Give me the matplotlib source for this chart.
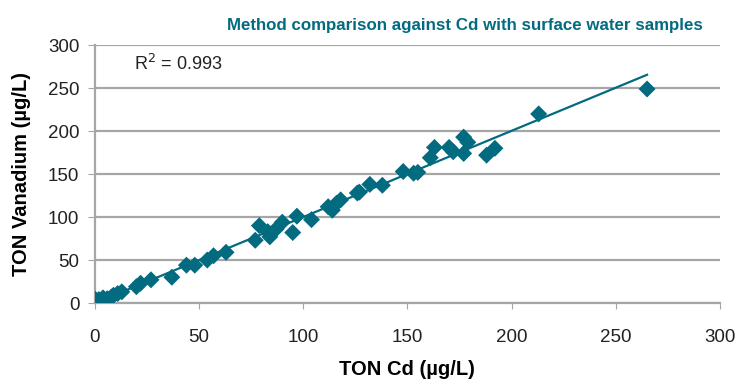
import numpy as np
import matplotlib
matplotlib.use("Agg")
from matplotlib import pyplot as plt

plt.rcParams['font.family'] = ['Liberation Sans', 'DejaVu Sans']

# TON results, surface water samples (ug/L)
ton_cd = [0, 1, 2, 3, 4, 5, 6, 8, 9, 11, 13, 20, 22, 27, 37,
          44, 48, 54, 57, 63, 77, 79, 83, 84, 87, 90, 95, 97,
          104, 112, 114, 116, 118, 126, 127, 132, 138, 148, 153,
          155, 161, 163, 170, 172, 177, 177, 179, 188, 192, 213, 265]
ton_v = [5, 2, 4, 1, 6, 3, 5, 7, 9, 11, 13, 19, 23, 27, 30,
         44, 44, 50, 55, 59, 73, 90, 83, 77, 86, 94, 82, 101,
         97, 112, 108, 116, 120, 128, 129, 138, 137, 153, 151,
         152, 169, 181, 181, 176, 193, 174, 187, 172, 180, 220, 249]

r2_label = "R$^2$ = 0.993"
teal = "#036b80"
grid_gray = "#a6a6a6"

x = np.array(ton_cd)
y = np.array(ton_v)
slope, icept = np.polyfit(x, y, 1)
xl = np.array([0, x.max()])

fig = plt.figure(figsize=(7.4, 3.86), dpi=100)
ax = fig.add_axes([0.128, 0.215, 0.845, 0.668])

ax.plot(xl, slope * xl + icept, color=teal, lw=1.6, zorder=2)
ax.scatter(x, y, marker="D", s=75, color=teal, edgecolors="none", zorder=3)

ax.set_xlim(0, 300)
ax.set_ylim(0, 300)
ax.set_xticks(range(0, 301, 50))
ax.set_yticks(range(0, 301, 50))
ax.yaxis.grid(True, color=grid_gray, lw=1.6)
ax.set_axisbelow(True)
for s in ["top", "right"]:
    ax.spines[s].set_visible(False)
for s in ["left", "bottom"]:
    ax.spines[s].set_color(grid_gray)
    ax.spines[s].set_linewidth(1.6)
ax.tick_params(axis="y", length=5, color=grid_gray, labelsize=13.5, pad=6, labelcolor="#222222")
ax.tick_params(axis="x", direction="out", length=4, color=grid_gray, labelsize=13.5, pad=15, labelcolor="#222222")

ax.set_xlabel("TON Cd (\u00b5g/L)", fontsize=14.5, fontweight="bold", labelpad=10)
ax.set_ylabel("TON Vanadium (\u00b5g/L)", fontsize=14.5, fontweight="bold", labelpad=12)
ax.set_title("Method comparison against Cd with surface water samples",
             fontsize=12.2, fontweight="bold", color=teal, x=0.592, pad=11)
ax.text(0.063, 0.905, r2_label, transform=ax.transAxes, fontsize=13, color="#222222")

fig.savefig("out.png", dpi=100)
